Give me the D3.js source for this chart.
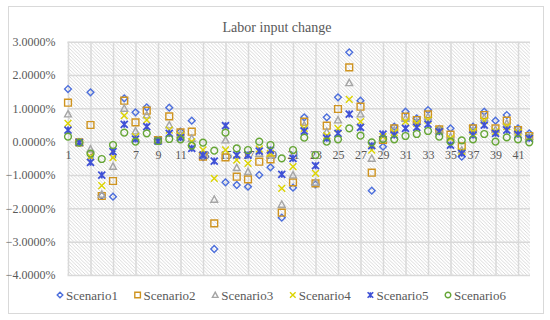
<!DOCTYPE html>
<html>
<head>
<meta charset="utf-8">
<script src="https://cdn.jsdelivr.net/npm/d3@7"></script>
<style>
  body { margin: 0; background: #fff; }
  text { font-family: "Liberation Serif", serif; fill: #595959; }
</style>
</head>
<body>
<svg id="chart" width="550" height="320"></svg>
<script>
// values are percent changes
let categories = d3.range(1, 43);
let scenario1 = [1.58, -0.02, 1.48, -1.62, -1.65, 1.30, 0.88, 1.03, 0.05, 1.02, 0.30, 0.63, -0.47, -3.22, -1.22, -1.30, -1.35, -1.00, -0.77, -2.28, -1.38, 0.73, -1.28, 0.73, 1.33, 2.68, 1.23, -1.47, -0.15, 0.45, 0.90, 0.70, 0.95, 0.38, 0.40, -0.45, 0.45, 0.90, 0.63, 0.80, 0.40, 0.25];
let scenario2 = [1.17, -0.02, 0.50, -1.63, -1.18, 1.23, 0.58, 0.93, 0.05, 0.76, 0.28, 0.30, -0.45, -2.45, -0.47, -1.05, -1.13, -0.60, -0.53, -2.13, -1.22, 0.60, -1.25, 0.48, 0.98, 2.23, 1.05, -0.93, 0.05, 0.40, 0.75, 0.65, 0.82, 0.37, 0.21, -0.14, 0.40, 0.80, 0.40, 0.63, 0.35, 0.17];
let scenario3 = [0.83, -0.02, -0.22, -1.58, -0.74, 1.00, 0.32, 0.80, 0.04, 0.50, 0.22, 0.10, -0.35, -1.73, 0.05, -0.78, -0.90, -0.35, -0.40, -1.88, -1.00, 0.50, -1.22, 0.30, 0.65, 1.77, 0.83, -0.50, 0.10, 0.35, 0.70, 0.60, 0.75, 0.35, 0.15, -0.25, 0.35, 0.72, 0.36, 0.55, 0.32, 0.15];
let scenario4 = [0.55, -0.02, -0.45, -1.32, -0.48, 0.78, 0.15, 0.65, 0.03, 0.35, 0.18, 0.00, -0.25, -1.10, -0.25, -0.55, -0.65, -0.22, -0.35, -1.40, -0.75, 0.40, -0.95, 0.18, 0.40, 1.27, 0.60, -0.25, 0.15, 0.28, 0.60, 0.55, 0.65, 0.33, 0.10, -0.30, 0.30, 0.63, 0.30, 0.45, 0.28, 0.13];
let scenario5 = [0.35, -0.02, -0.62, -1.00, -0.30, 0.52, 0.08, 0.45, 0.02, 0.25, 0.12, -0.20, -0.40, -0.58, 0.48, -0.40, -0.40, -0.28, -0.25, -0.98, -0.50, 0.32, -0.72, 0.10, 0.25, 0.83, 0.43, -0.12, 0.23, 0.20, 0.40, 0.43, 0.53, 0.30, -0.10, -0.35, 0.20, 0.50, 0.25, 0.35, 0.22, 0.10];
let scenario6 = [0.15, -0.03, -0.36, -0.52, -0.10, 0.27, 0.00, 0.25, 0.02, 0.08, 0.07, -0.12, -0.03, -0.27, 0.27, -0.20, -0.25, 0.00, -0.10, -0.50, -0.25, 0.12, -0.40, 0.00, 0.07, 0.40, 0.18, -0.02, 0.08, 0.07, 0.17, 0.23, 0.32, 0.15, 0.00, 0.04, 0.07, 0.23, 0.00, 0.13, 0.07, -0.02];
let seriesNames = ["Scenario1", "Scenario2", "Scenario3", "Scenario4", "Scenario5", "Scenario6"];
let yTicks = [-4, -3, -2, -1, 0, 1, 2, 3];

let allSeries = [scenario1, scenario2, scenario3, scenario4, scenario5, scenario6];
let colors = ["#4d6fdc", "#cf9420", "#a5a5a5", "#dcd400", "#3f51d6", "#66a636"];

// marker shapes, r = half size
let markers = [
  (r) => `M0,${-r}L${r},0L0,${r}L${-r},0Z`,
  (r) => `M${-r},${-r}H${r}V${r}H${-r}Z`,
  (r) => `M0,${-r}L${r},${r * 0.85}H${-r}Z`,
  (r) => `M${-r},${-r}L${r},${r}M${-r},${r}L${r},${-r}`,
  (r) => `M${-r},${-r}L${r},${r}M${-r},${r}L${r},${-r}M0,${-r}V${r}`,
  (r) => `M${r},0A${r},${r} 0 1,1 ${-r},0A${r},${r} 0 1,1 ${r},0`
];

let svg = d3.select("#chart");

let plotLeft = 67.5, plotRight = 530, plotTop = 41.7, plotBottom = 275;

let x = d3.scalePoint().domain(categories).range([68, 529.25]);
let y = d3.scaleLinear().domain([-4, 3]).range([plotBottom, plotTop]);

let defs = svg.append("defs");
defs.append("pattern")
  .attr("id", "hatch")
  .attr("width", 3.5)
  .attr("height", 3.5)
  .attr("patternUnits", "userSpaceOnUse")
  .append("path")
  .attr("d", "M0,0L3.5,3.5M-1,2.5L1,4.5M2.5,-1L4.5,1")
  .attr("stroke", "#c9c9c9")
  .attr("stroke-width", 0.7);

// chart border
svg.append("rect")
  .attr("x", 8.5).attr("y", 6.5)
  .attr("width", 535).attr("height", 307)
  .attr("fill", "#fff")
  .attr("stroke", "#d9d9d9");

svg.append("rect")
  .attr("x", plotLeft).attr("y", plotTop)
  .attr("width", plotRight - plotLeft).attr("height", plotBottom - plotTop)
  .attr("fill", "url(#hatch)");

// grid lines
svg.append("g")
  .attr("transform", "translate(" + plotLeft + ",0)")
  .call(d3.axisLeft(y).tickValues(yTicks).tickSize(-(plotRight - plotLeft)).tickFormat(""))
  .call((g) => g.select(".domain").remove())
  .call((g) => g.selectAll("line").attr("stroke", "#d9d9d9").attr("stroke-width", 1.5));

let oddCats = categories.filter((c) => c % 2 === 1);

svg.append("g")
  .attr("transform", "translate(0," + plotBottom + ")")
  .call(d3.axisBottom(x).tickValues(oddCats).tickSize(-(plotBottom - plotTop)).tickFormat(""))
  .call((g) => g.select(".domain").remove())
  .call((g) => g.selectAll("line").attr("stroke", "#d9d9d9").attr("stroke-width", 1.5));

// y labels
svg.append("g")
  .attr("transform", "translate(" + plotLeft + ",0)")
  .call(d3.axisLeft(y).tickValues(yTicks).tickSize(0).tickPadding(12)
    .tickFormat((d) => d3.format(".4f")(d) + "%"))
  .call((g) => g.select(".domain").remove())
  .selectAll("text")
  .style("font-family", "Liberation Serif")
  .style("font-size", "12px")
  .attr("fill", "#595959");

// x labels at the zero line
svg.append("g")
  .attr("transform", "translate(0," + y(0) + ")")
  .call(d3.axisBottom(x).tickValues(oddCats).tickSize(0).tickPadding(9))
  .call((g) => g.select(".domain").remove())
  .selectAll("text")
  .style("font-family", "Liberation Serif")
  .style("font-size", "12px")
  .attr("fill", "#595959");

// markers
allSeries.forEach((values, s) => {
  svg.append("g")
    .selectAll("path")
    .data(values)
    .enter()
    .append("path")
    .attr("transform", (v, i) => "translate(" + x(categories[i]) + "," + y(v) + ")")
    .attr("d", markers[s](s === 4 ? 3.5 : 3.4))
    .attr("fill", "none")
    .attr("stroke", colors[s])
    .attr("stroke-width", s === 4 ? 1.8 : 1.4);
});

// title
svg.append("text")
  .attr("x", 277)
  .attr("y", 32)
  .attr("text-anchor", "middle")
  .style("font-size", "14px")
  .text("Labor input change");

// legend
let legend = svg.append("g").attr("transform", "translate(60,295)");
seriesNames.forEach((name, s) => {
  let item = legend.append("g").attr("transform", "translate(" + s * 77.6 + ",0)");
  item.append("path")
    .attr("d", markers[s](2.8))
    .attr("fill", "none")
    .attr("stroke", colors[s])
    .attr("stroke-width", s === 4 ? 1.6 : 1.4);
  item.append("text")
    .attr("x", 6)
    .attr("y", 4.5)
    .style("font-size", "13px")
    .text(name);
});
</script>
</body>
</html>
